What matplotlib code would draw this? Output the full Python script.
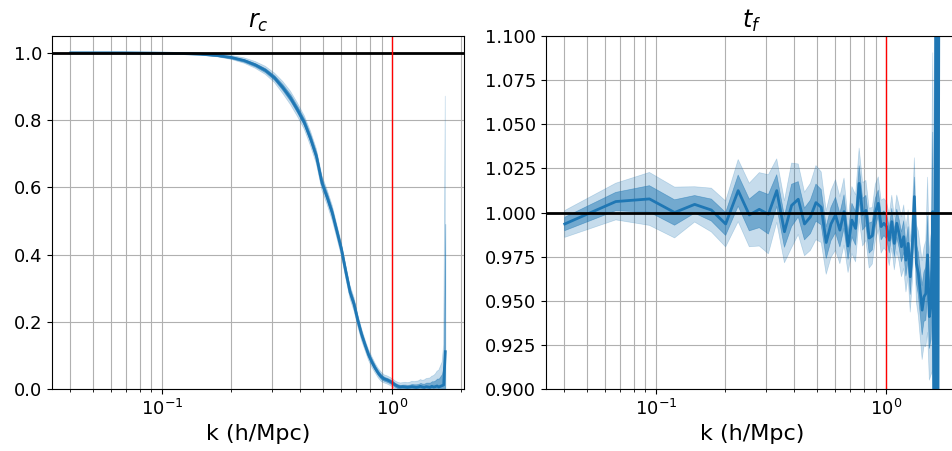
import numpy as np
import matplotlib
matplotlib.use('Agg')
import matplotlib.pyplot as plt

# k bins (h/Mpc)
k = [0.0402, 0.0670, 0.0938, 0.1206, 0.1474, 0.1742, 0.2010, 0.2278, 0.2546, 0.2814,
     0.3082, 0.3350, 0.3618, 0.3886, 0.4154, 0.4422, 0.4690, 0.4958, 0.5226, 0.5494,
     0.5762, 0.6030, 0.6298, 0.6566, 0.6834, 0.7102, 0.7370, 0.7638, 0.7906, 0.8174,
     0.8442, 0.8710, 0.8978, 0.9246, 0.9514, 0.9782, 1.0050, 1.0318, 1.0586, 1.0854,
     1.1122, 1.1390, 1.1658, 1.1926, 1.2194, 1.2462, 1.2730, 1.2998, 1.3266, 1.3534,
     1.3802, 1.4070, 1.4338, 1.4606, 1.4874, 1.5142, 1.5410, 1.5678, 1.5946, 1.6214,
     1.6482, 1.6750, 1.7018]

# cross-correlation coefficient r_c, mean and 1-sigma
rc = [1.000, 1.000, 0.999, 0.998, 0.996, 0.992, 0.986, 0.977, 0.964, 0.948,
      0.926, 0.897, 0.866, 0.830, 0.793, 0.745, 0.692, 0.613, 0.570, 0.524,
      0.468, 0.414, 0.348, 0.288, 0.252, 0.203, 0.162, 0.130, 0.101, 0.080,
      0.062, 0.047, 0.036, 0.030, 0.027, 0.023, 0.018, 0.012, 0.008, 0.006,
      0.007, 0.006, 0.005, 0.006, 0.007, 0.006, 0.005, 0.006, 0.008, 0.006,
      0.005, 0.007, 0.006, 0.005, 0.008, 0.006, 0.007, 0.009, 0.006, 0.008,
      0.010, 0.012, 0.111]
rc_err = [0.0005, 0.0005, 0.0008, 0.001, 0.0015, 0.002, 0.003, 0.004, 0.005, 0.006,
          0.007, 0.009, 0.010, 0.010, 0.010, 0.011, 0.011, 0.011, 0.011, 0.011,
          0.010, 0.010, 0.010, 0.010, 0.010, 0.009, 0.009, 0.008, 0.008, 0.008,
          0.007, 0.007, 0.007, 0.006, 0.006, 0.006, 0.006, 0.006, 0.006, 0.006,
          0.006, 0.007, 0.007, 0.007, 0.008, 0.008, 0.009, 0.009, 0.010, 0.010,
          0.011, 0.012, 0.013, 0.014, 0.015, 0.017, 0.019, 0.022, 0.025, 0.030,
          0.035, 0.060, 0.380]

# transfer function t_f, mean and 1-sigma
tf = [0.9935, 1.0062, 1.0077, 1.0000, 1.0046, 1.0014, 0.9935, 1.0124, 0.9986, 1.0018,
      0.9990, 1.0124, 0.9891, 1.0040, 1.0075, 0.9935, 0.9975, 1.0056, 1.0030, 0.9830,
      0.9935, 0.9986, 0.9900, 1.0005, 0.9810, 0.9957, 0.9910, 1.0165, 0.9990, 1.0012,
      0.9855, 0.9868, 1.0000, 1.0052, 0.9920, 0.9939, 0.9920, 0.9843, 0.9948, 0.9825,
      0.9939, 0.9880, 0.9806, 0.9863, 0.9730, 0.9825, 0.9636, 0.9806, 1.0090, 0.9712,
      0.9655, 0.9550, 0.9447, 0.9523, 0.9540, 0.9760, 0.9410, 0.9480, 1.0005, 0.8200,
      1.2000, 0.8000, 1.2500]
tf_err = [0.0038, 0.0052, 0.0075, 0.0072, 0.0050, 0.0062, 0.0065, 0.0088, 0.0090, 0.0104,
          0.0112, 0.0090, 0.0088, 0.0120, 0.0100, 0.0090, 0.0095, 0.0105, 0.0100, 0.0090,
          0.0095, 0.0100, 0.0095, 0.0095, 0.0075, 0.0095, 0.0095, 0.0100, 0.0090, 0.0085,
          0.0085, 0.0080, 0.0080, 0.0075, 0.0075, 0.0070, 0.0070, 0.0072, 0.0075, 0.0075,
          0.0080, 0.0080, 0.0085, 0.0090, 0.0090, 0.0095, 0.0100, 0.0100, 0.0110, 0.0110,
          0.0120, 0.0130, 0.0140, 0.0140, 0.0150, 0.0220, 0.0180, 0.0200, 0.0450, 0.0800,
          0.0800, 0.0800, 0.0800]

k_nl = 1.0


def panel(ax, y, err, title):
    y = np.array(y)
    err = np.array(err)
    ax.fill_between(k, y - 2 * err, y + 2 * err, color='C0', alpha=0.25, lw=0.5)
    ax.fill_between(k, y - err, y + err, color='C0', alpha=0.5, lw=0.5)
    ax.plot(k, y, color='C0', lw=2)
    ax.axhline(1.0, color='k', lw=2)
    ax.axvline(k_nl, color='r', lw=1)
    ax.set_xscale('log')
    ax.grid(True, which='both', color='#b0b0b0', lw=0.8)
    ax.set_axisbelow(True)
    ax.set_title(title, fontsize=17)
    ax.set_xlabel('k (h/Mpc)', fontsize=16)
    ax.tick_params(labelsize=13)


fig = plt.figure(figsize=(9.52, 4.51), dpi=100)
ax1 = fig.add_axes([52 / 952, 62 / 451, 412 / 952, 353 / 451])
ax2 = fig.add_axes([546 / 952, 62 / 451, 412 / 952, 353 / 451])

panel(ax1, rc, rc_err, '$r_c$')
ax1.set_ylim(0, 1.05)
ax1.set_yticks(np.arange(0, 1.01, 0.2))

panel(ax2, tf, tf_err, '$t_f$')
ax2.set_ylim(0.9, 1.1)
ax2.set_yticks(np.arange(0.9, 1.1001, 0.025))
ax2.yaxis.set_major_formatter(matplotlib.ticker.FormatStrFormatter('%.3f'))

fig.savefig('out.png', dpi=100)
